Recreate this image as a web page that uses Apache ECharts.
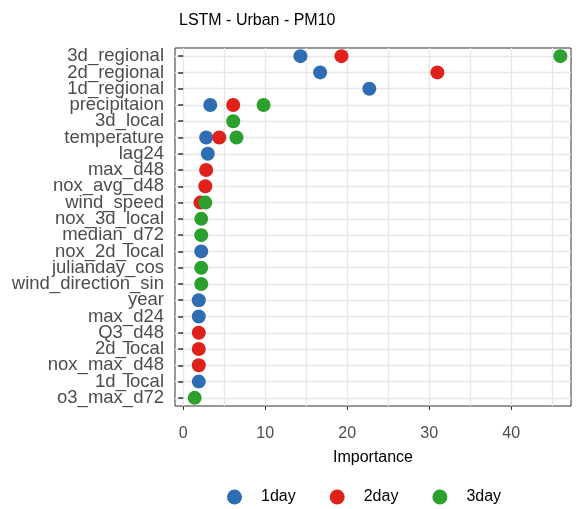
<!DOCTYPE html>
<html><head><meta charset="utf-8">
<script src="https://cdn.jsdelivr.net/npm/echarts@6/dist/echarts.min.js"></script>
<style>html,body{margin:0;padding:0;background:#fff}#c{width:581px;height:509px}</style>
</head><body><div id="c"></div>
<script>
const categories = ["3d_regional","2d_regional","1d_regional","precipitaion","3d_local","temperature","lag24","max_d48","nox_avg_d48","wind_speed","nox_3d_local","median_d72","nox_2d_local","julianday_cos","wind_direction_sin","year","max_d24","Q3_d48","2d_local","nox_max_d48","1d_local","o3_max_d72"];
const day1 = [["3d_regional",14.3],["2d_regional",16.7],["1d_regional",22.7],["precipitaion",3.3],["temperature",2.8],["lag24",3.0],["nox_2d_local",2.2],["year",1.9],["max_d24",1.9],["1d_local",1.9]];
const day2 = [["3d_regional",19.3],["2d_regional",31.0],["precipitaion",6.1],["temperature",4.4],["max_d48",2.8],["nox_avg_d48",2.7],["wind_speed",2.1],["Q3_d48",1.9],["2d_local",1.9],["nox_max_d48",1.9]];
const day3 = [["3d_regional",46.0],["precipitaion",9.8],["3d_local",6.1],["temperature",6.5],["wind_speed",2.7],["nox_3d_local",2.2],["median_d72",2.2],["julianday_cos",2.2],["wind_direction_sin",2.2],["o3_max_d72",1.4]];
const names = ["1day","2day","3day"];
const colors = ["#2f6db3","#e0201b","#2ca02c"];
const font = "Liberation Sans";
const chart = echarts.init(document.getElementById('c'));
const mk = (d)=>d.map(p=>[p[1],p[0]]);
chart.setOption({
  animation:false,
  title:{text:"LSTM - Urban - PM10",left:174,top:8,textStyle:{fontFamily:font,fontSize:16,fontWeight:"normal",color:"#000"}},
  legend:{top:484,left:222,itemGap:34,icon:"circle",itemWidth:15,itemHeight:15,
    textStyle:{fontFamily:font,fontSize:16,color:"#000",padding:[0,0,0,14]},data:names},
  grid:{left:175,right:10,top:48,bottom:103,containLabel:false,show:true,borderColor:"#333",borderWidth:1},
  xAxis:{type:"value",min:-1,max:47.3,interval:10,
    axisLabel:{fontFamily:font,fontSize:16,color:"#4d4d4d",margin:20,customValues:[0,10,20,30,40]},
    axisTick:{show:true,inside:false,customValues:[0,10,20,30,40],length:4,lineStyle:{color:"#333"}},
    axisLine:{show:false},
    splitLine:{show:false},
    name:"Importance",nameLocation:"middle",nameGap:44,nameTextStyle:{fontFamily:font,fontSize:16,color:"#000"}},
  yAxis:{type:"category",data:categories,inverse:true,
    axisLabel:{fontFamily:font,fontSize:18.5,color:"#4d4d4d",margin:11,interval:0,lineHeight:16},
    axisTick:{show:true,inside:false,alignWithLabel:true,length:5,interval:0,lineStyle:{color:"#333",width:1.5}},
    axisLine:{show:false},
    splitLine:{show:false}},
  series:[
    {type:"line",silent:true,data:[],z:0,markLine:{symbol:"none",silent:true,z:0,label:{show:false},
      lineStyle:{color:"#e8e8e8",width:1.4,type:"solid"},
      data:[0,5,10,15,20,25,30,35,40,45].map(v=>({xAxis:v})).concat(categories.map(c=>({yAxis:c})))}},
    ...[day1,day2,day3].map((d,i)=>({name:names[i],type:"scatter",data:mk(d),symbolSize:14,itemStyle:{color:colors[i],opacity:1},z:5}))
  ]
});
</script></body></html>
